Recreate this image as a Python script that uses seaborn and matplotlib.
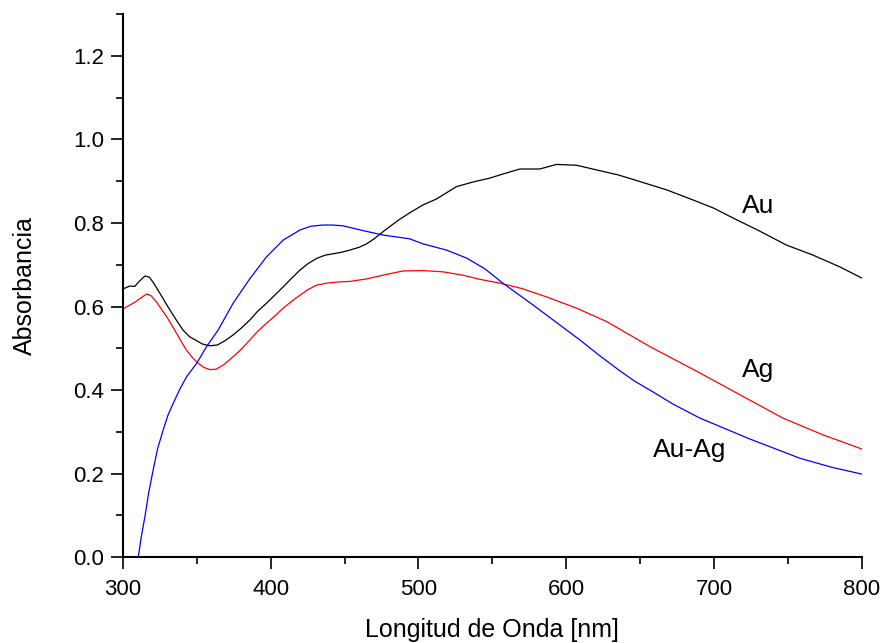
import numpy as np
import pandas as pd
import matplotlib
matplotlib.use("Agg")
import matplotlib.pyplot as plt
import seaborn as sns
from matplotlib.ticker import MultipleLocator, FormatStrFormatter

# valores
au_x = [299, 302, 304.7, 308, 311, 314.9, 318, 321, 325, 329, 333, 337, 340.6, 345, 350,
        354, 358.9, 364, 369, 374.6, 380, 386, 391, 397.2, 403, 408.5, 414, 419.8, 425, 431,
        437, 446.8, 453.6, 460, 464.9, 470, 476, 482, 487, 494, 503, 512, 525.8, 537, 548,
        558, 568.6, 582, 593.4, 607, 622.7, 635, 649.8, 668, 685.7, 700, 712.7, 730, 749,
        766.9, 785, 800]
au_y = [0.640, 0.645, 0.649, 0.648, 0.660, 0.673, 0.670, 0.655, 0.632, 0.608, 0.585, 0.563,
        0.544, 0.528, 0.518, 0.510, 0.506, 0.508, 0.518, 0.532, 0.548, 0.568, 0.588, 0.608,
        0.628, 0.647, 0.667, 0.687, 0.702, 0.715, 0.723, 0.729, 0.735, 0.742, 0.750, 0.762,
        0.779, 0.795, 0.808, 0.824, 0.843, 0.857, 0.887, 0.898, 0.907, 0.918, 0.929, 0.929,
        0.940, 0.938, 0.925, 0.915, 0.899, 0.879, 0.855, 0.835, 0.812, 0.782, 0.747, 0.723,
        0.695, 0.668]

ag_x = [299, 303, 308, 312, 316, 319, 323, 326, 329.6, 333, 337, 340, 343, 347, 351, 355,
        358.9, 363, 368, 374.6, 379, 386, 391, 397.2, 403, 408.5, 414, 419.8, 425, 431, 438,
        446.8, 453.6, 464.9, 476, 489.4, 503, 516.5, 530, 541.5, 555, 570, 586.7, 607,
        627.3, 656.6, 690.4, 724.2, 746.6, 773.6, 800]
ag_y = [0.592, 0.600, 0.610, 0.620, 0.630, 0.626, 0.610, 0.594, 0.576, 0.556, 0.532, 0.513,
        0.496, 0.478, 0.464, 0.454, 0.449, 0.450, 0.460, 0.480, 0.494, 0.520, 0.540, 0.560,
        0.578, 0.596, 0.612, 0.627, 0.640, 0.651, 0.656, 0.659, 0.660, 0.666, 0.675, 0.685,
        0.686, 0.683, 0.675, 0.665, 0.656, 0.643, 0.623, 0.596, 0.564, 0.504, 0.441, 0.376,
        0.333, 0.293, 0.259]

auag_x = [310.4, 312.5, 314.9, 317.5, 320.5, 323.5, 327.3, 330.5, 334, 338.5, 343.1, 349.9,
          356.6, 364.5, 374.6, 386, 397.2, 408.5, 419.8, 427, 435.5, 442, 449, 462, 476,
          494, 503, 519, 532.5, 545, 557, 577.4, 591, 609.2, 622, 636.3, 646, 656.6, 672,
          690.4, 724.2, 758, 780, 800]
auag_y = [0.0, 0.05, 0.097, 0.155, 0.209, 0.260, 0.305, 0.340, 0.368, 0.402, 0.432, 0.464,
          0.504, 0.544, 0.608, 0.667, 0.719, 0.759, 0.783, 0.792, 0.795, 0.795, 0.793, 0.782,
          0.771, 0.762, 0.750, 0.735, 0.716, 0.690, 0.656, 0.604, 0.568, 0.520, 0.484,
          0.446, 0.422, 0.400, 0.367, 0.333, 0.283, 0.237, 0.215, 0.199]

etiquetas = ["Au", "Ag", "Au-Ag"]
pos_etiquetas = [(729.6, 0.84), (729.6, 0.448), (683.6, 0.257)]

sns.set_style("ticks")
plt.rcParams['font.family'] = ['Liberation Sans', 'DejaVu Sans']
plt.rcParams.update({'text.color': 'black', 'axes.labelcolor': 'black',
                     'xtick.color': 'black', 'ytick.color': 'black',
                     'axes.edgecolor': 'black'})

fig = plt.figure(figsize=(8.84, 6.43), dpi=100)
ax = fig.add_axes([0.139, 0.1333, 0.836, 0.845])

sns.lineplot(x=au_x, y=au_y, color='black', linewidth=0.9, ax=ax)
sns.lineplot(x=ag_x, y=ag_y, color='red', linewidth=0.9, ax=ax)
sns.lineplot(x=auag_x, y=auag_y, color='blue', linewidth=0.9, ax=ax)

for txt, (tx, ty) in zip(etiquetas, pos_etiquetas):
    ax.text(tx, ty, txt, fontsize=19, ha='center', va='center', color='black')

ax.set_xlim(300, 800)
ax.set_ylim(0, 1.3)
ax.xaxis.set_major_locator(MultipleLocator(100))
ax.xaxis.set_minor_locator(MultipleLocator(50))
ax.yaxis.set_major_locator(MultipleLocator(0.2))
ax.yaxis.set_minor_locator(MultipleLocator(0.1))
ax.yaxis.set_major_formatter(FormatStrFormatter('%.1f'))

sns.despine(ax=ax)
for s in ['left', 'bottom']:
    ax.spines[s].set_linewidth(1.5)
ax.tick_params(which='major', length=8.5, width=1.2, labelsize=16, pad=5)
ax.tick_params(which='minor', length=5, width=1.2)
ax.tick_params(axis='x', which='major', pad=7)

ax.set_xlabel('Longitud de Onda [nm]', fontsize=18, labelpad=13)
ax.set_ylabel('Absorbancia', fontsize=18, labelpad=26)

fig.savefig('out.png', dpi=100)
